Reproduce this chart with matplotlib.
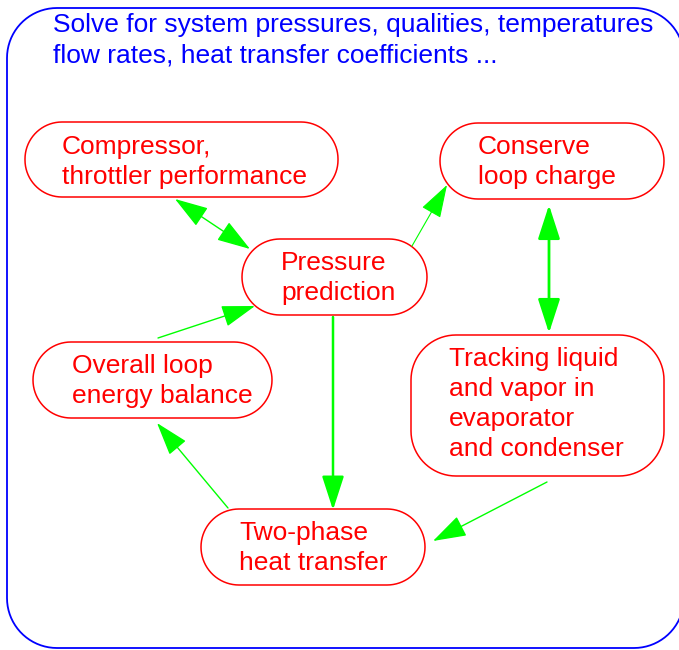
import numpy as np
import matplotlib.pyplot as plt
from matplotlib.patches import Polygon, FancyArrowPatch

plt.rcParams['font.family'] = ['Liberation Sans', 'DejaVu Sans']

title_lines = ['Solve for system pressures, qualities, temperatures',
               'flow rates, heat transfer coefficients ...']

# nodes: label, box (left, top, right, bottom), corner radius, text left, text centre
labels = ['Compressor,\nthrottler performance',
          'Conserve\nloop charge',
          'Pressure\nprediction',
          'Overall loop\nenergy balance',
          'Tracking liquid\nand vapor in\nevaporator\nand condenser',
          'Two-phase\nheat transfer']
box_left = [25, 440, 242, 33, 411, 201]
box_top = [122, 123, 239, 342, 335, 509]
box_right = [338, 664, 427, 272, 664, 425]
box_bottom = [197, 199, 315, 418, 476, 585]
box_radius = [37, 38, 38, 38, 45, 38]
text_x = [62, 478, 281, 72, 449, 239]
text_y = [162, 162, 278, 381, 404, 548]

# arrows: start, end, both heads?, line width
arr_x0 = [175, 412, 158, 333, 549, 228, 547]
arr_y0 = [199, 246, 338, 317, 205, 508, 482]
arr_x1 = [250, 447, 255, 333, 549, 157, 433]
arr_y1 = [249, 185, 306, 510, 333, 423, 541]
arr_both = [True, False, False, False, True, False, False]
arr_lw = [1.0, 0.8, 1.0, 1.8, 2.0, 1.0, 1.0]

red = '#ff0000'
green = '#00ff00'
blue = '#0000ff'


def rounded_box(x0, y0, x1, y1, r, **kw):
    # rectangle with true circular corners (y grows downward)
    t = np.linspace(0, np.pi / 2, 20)
    pts = []
    for cx, cy, a0 in [(x1 - r, y0 + r, -np.pi / 2), (x1 - r, y1 - r, 0),
                       (x0 + r, y1 - r, np.pi / 2), (x0 + r, y0 + r, np.pi)]:
        a = a0 + t
        pts += list(zip(cx + r * np.cos(a), cy + r * np.sin(a)))
    return Polygon(pts, closed=True, **kw)


fig = plt.figure(figsize=(6.79, 6.5), dpi=100)
ax = fig.add_axes([0, 0, 1, 1])
ax.set_xlim(0, 679)
ax.set_ylim(650, 0)
ax.axis('off')

# outer frame
ax.add_patch(rounded_box(7, 8, 684, 648, 50, fc='white', ec=blue, lw=1.3,
                         clip_on=False))
ax.text(53, 40, '\n'.join(title_lines), color=blue, fontsize=19,
        ha='left', va='center', linespacing=1.32)

for i in range(len(labels)):
    ax.add_patch(rounded_box(box_left[i], box_top[i], box_right[i], box_bottom[i],
                             box_radius[i], fc='white', ec=red, lw=1.1))
    ax.text(text_x[i], text_y[i], labels[i], color=red, fontsize=19,
            ha='left', va='center', linespacing=1.32)

for i in range(len(arr_x0)):
    style = '<|-|>' if arr_both[i] else '-|>'
    style += ',head_length=21,head_width=6.8'
    a = FancyArrowPatch((arr_x0[i], arr_y0[i]), (arr_x1[i], arr_y1[i]),
                        arrowstyle=style, mutation_scale=1, color=green,
                        lw=arr_lw[i], shrinkA=0, shrinkB=0)
    ax.add_patch(a)

fig.savefig('out.png', dpi=100)
